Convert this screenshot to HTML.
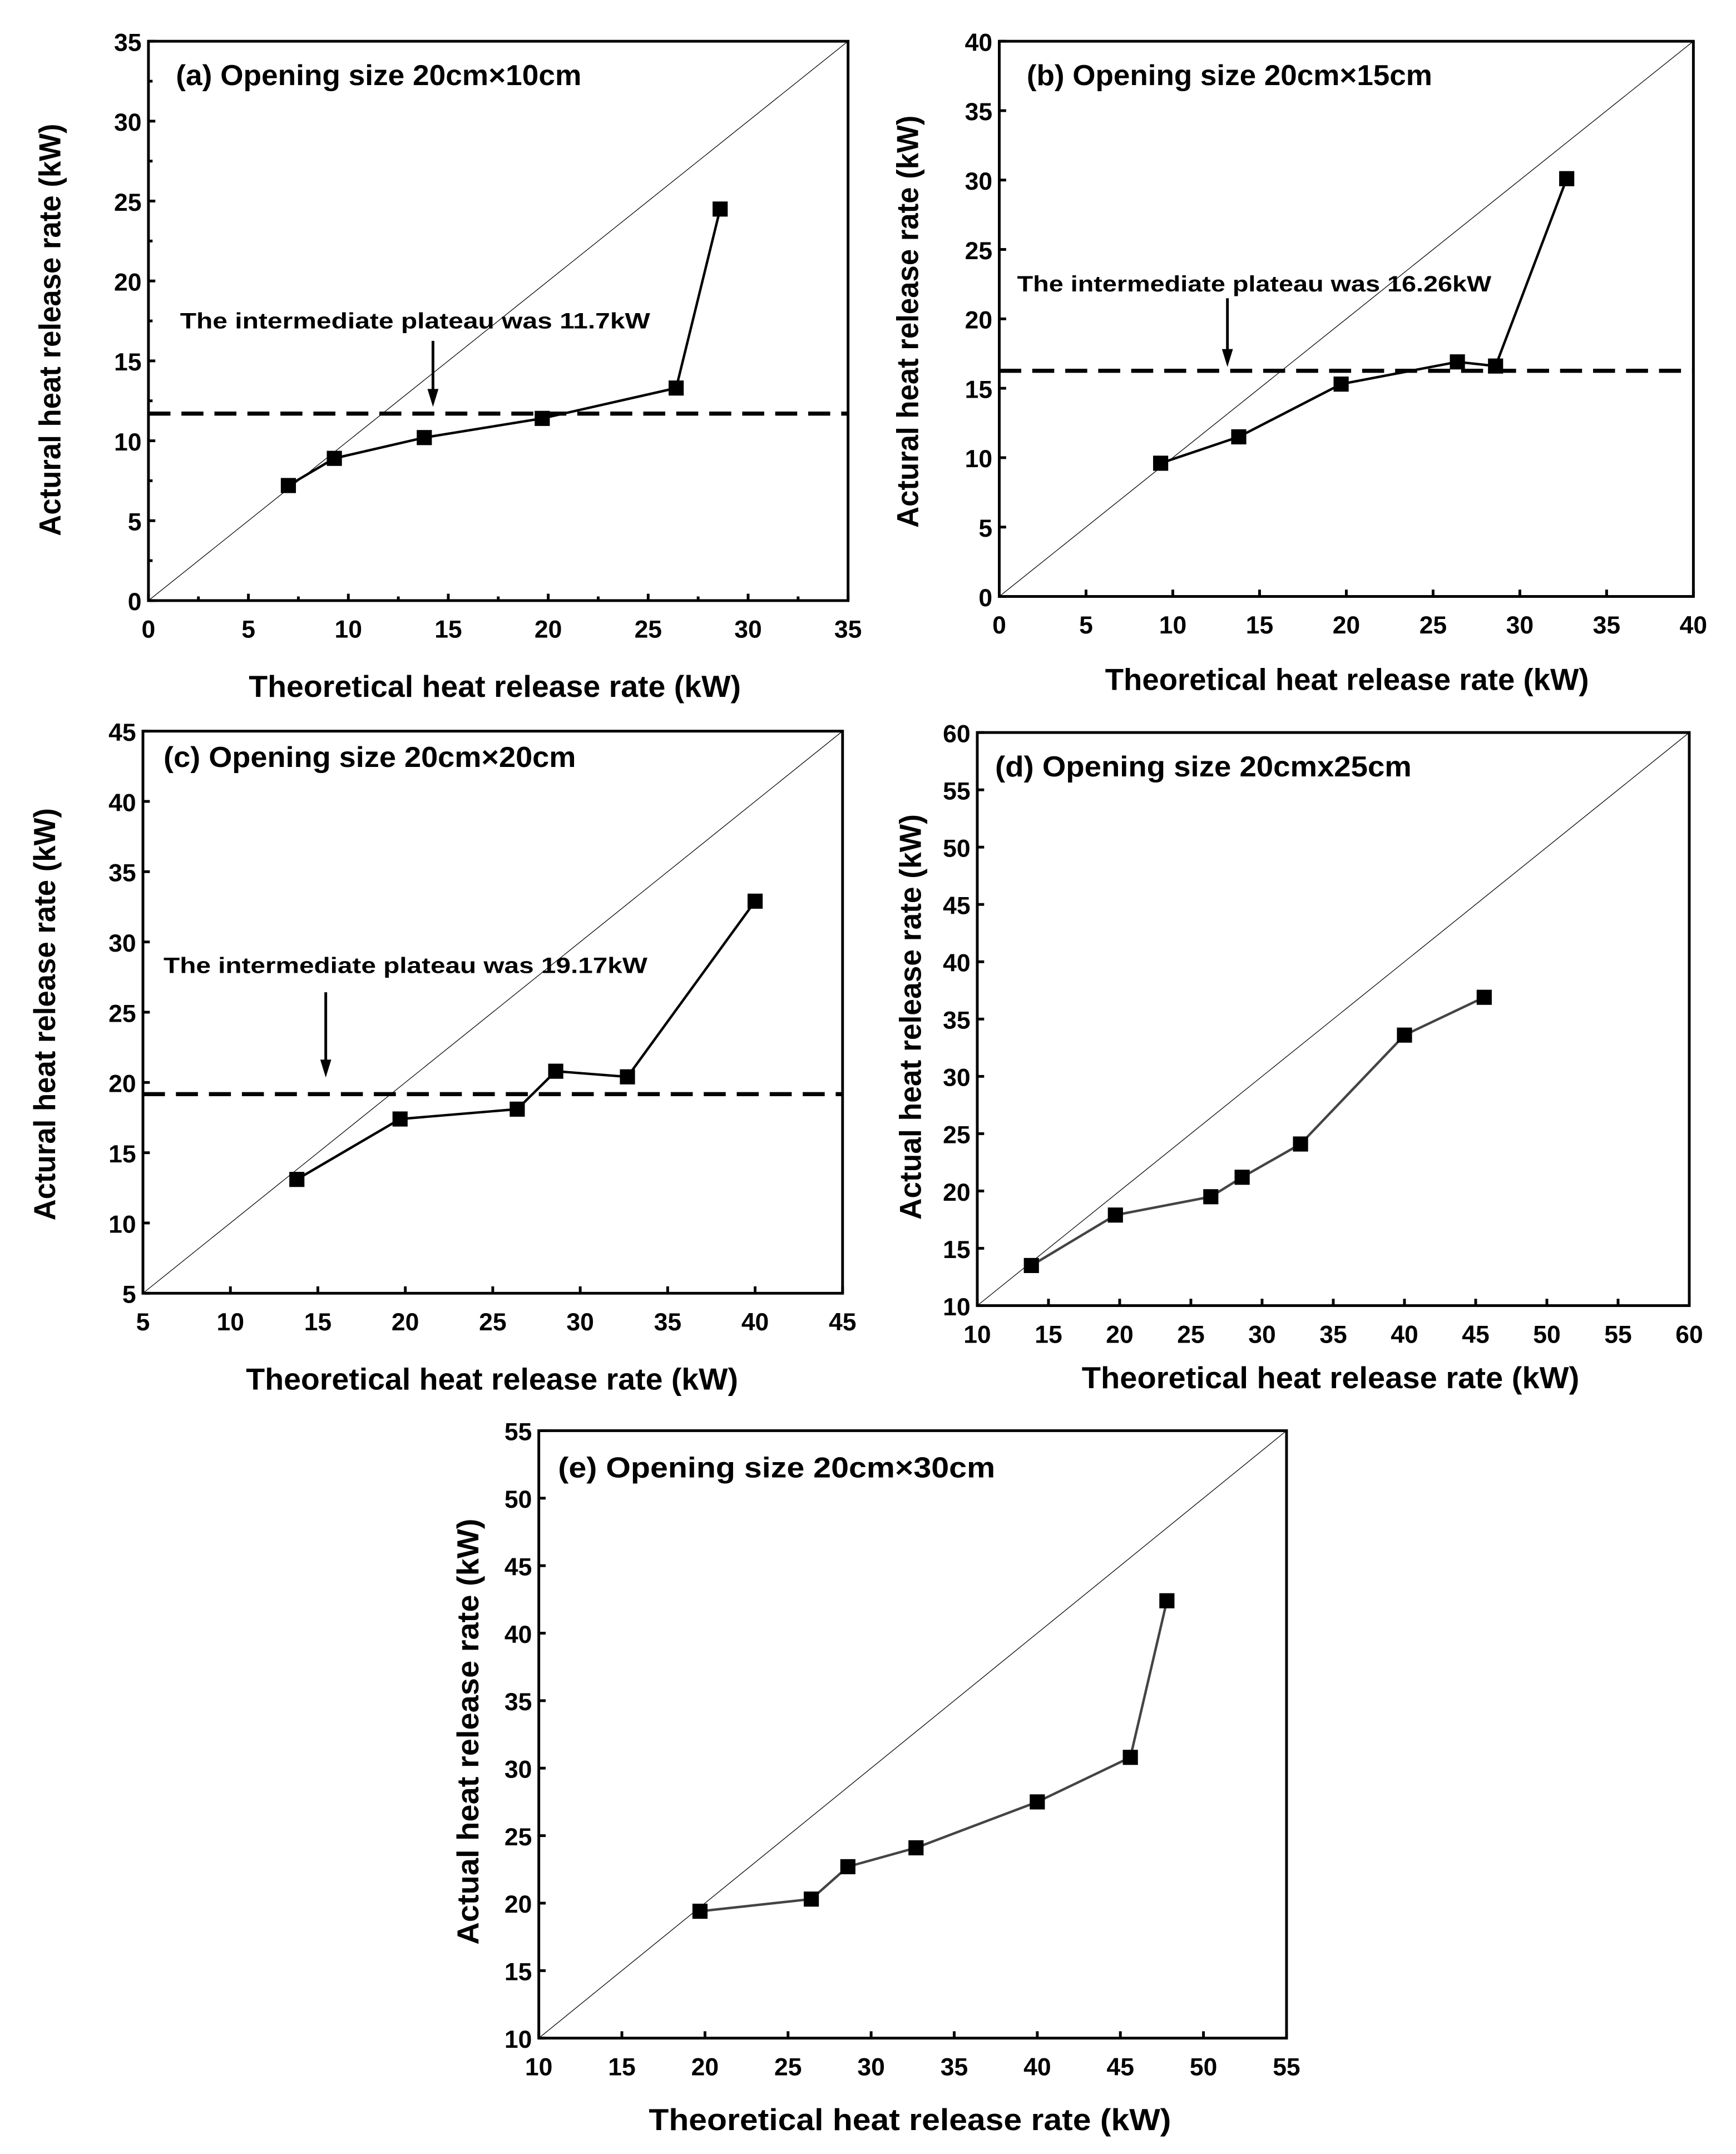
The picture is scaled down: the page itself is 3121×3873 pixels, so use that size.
<!DOCTYPE html>
<html><head><meta charset="utf-8">
<style>
html,body{margin:0;padding:0;background:#fff;}
svg{display:block;}
text{font-family:"Liberation Sans",sans-serif;font-weight:bold;fill:#000;}
</style></head>
<body>
<svg id="fig" width="3121" height="3873" viewBox="0 0 1263 1567.3" xmlns="http://www.w3.org/2000/svg"></svg>
<script>
// Panel data
const aX=[7,9.3,13.8,19.7,26.4,28.6];
const aY=[7.2,8.9,10.2,11.4,13.3,24.5];
const bX=[9.3,13.8,19.7,26.4,28.6,32.7];
const bY=[9.6,11.5,15.3,16.9,16.6,30.1];
const cX=[13.8,19.7,26.4,28.6,32.7,40];
const cY=[13.1,17.4,18.1,20.8,20.4,32.9];
const dX=[13.8,19.7,26.4,28.6,32.7,40,45.6];
const dY=[13.5,17.9,19.5,21.2,24.1,33.6,36.9];
const eX=[19.7,26.4,28.6,32.7,40,45.6,47.8];
const eY=[19.4,20.3,22.7,24.1,27.5,30.8,42.4];
const plateaus=[11.7,16.26,19.17];
const aTicks=[0,5,10,15,20,25,30,35];
const bTicks=[0,5,10,15,20,25,30,35,40];
const cTicks=[5,10,15,20,25,30,35,40,45];
const dTicks=[10,15,20,25,30,35,40,45,50,55,60];
const eTicks=[10,15,20,25,30,35,40,45,50,55];

const NS="http://www.w3.org/2000/svg";
const svg=document.getElementById('fig');
function mk(tag,attrs,parent){const e=document.createElementNS(NS,tag);for(const k in attrs)e.setAttribute(k,attrs[k]);(parent||svg).appendChild(e);return e;}

const panels=[
 {id:'a',L:108,R:617,T:30,B:437,xs:aX,ys:aY,ticks:aTicks,minor:true,title:'(a) Opening size 20cm×10cm',tx:128,ty:62,tw:295,
  ylab:'Actural heat release rate (kW)',ylx:44,yly:240,ylw:300,xlab:'Theoretical heat release rate (kW)',xly:507,xlc:360,xlw:358,
  plateau:plateaus[0],note:'The  intermediate plateau was 11.7kW',nx:131,ny:239,nw:342,ax:315,ay1:248,ay2:296,col:'#000'},
 {id:'b',L:727,R:1232,T:30,B:434,xs:bX,ys:bY,ticks:bTicks,minor:false,title:'(b) Opening size 20cm×15cm',tx:747,ty:62,tw:295,
  ylab:'Actural heat release rate (kW)',ylx:668,yly:234,ylw:300,xlab:'Theoretical heat release rate (kW)',xly:502,xlc:980,xlw:352,
  plateau:plateaus[1],note:'The intermediate plateau was 16.26kW',nx:740,ny:212,nw:345,ax:893,ay1:217,ay2:267,col:'#000'},
 {id:'c',L:104,R:613,T:532,B:941,xs:cX,ys:cY,ticks:cTicks,minor:false,title:'(c) Opening size 20cm×20cm',tx:119,ty:558,tw:300,
  ylab:'Actural heat release rate (kW)',ylx:40,yly:738,ylw:300,xlab:'Theoretical heat release rate (kW)',xly:1011,xlc:358,xlw:358,
  plateau:plateaus[2],note:'The intermediate plateau was 19.17kW',nx:119,ny:708,nw:352,ax:237,ay1:722,ay2:784,col:'#000'},
 {id:'d',L:711,R:1229,T:533,B:950,xs:dX,ys:dY,ticks:dTicks,minor:false,title:'(d) Opening size 20cmx25cm',tx:724,ty:565,tw:303,
  ylab:'Actual heat release rate (kW)',ylx:670,yly:740,ylw:295,xlab:'Theoretical heat release rate (kW)',xly:1010,xlc:968,xlw:362,
  plateau:null,col:'#444'},
 {id:'e',L:392,R:936,T:1041,B:1483,xs:eX,ys:eY,ticks:eTicks,minor:false,title:'(e) Opening size 20cm×30cm',tx:406,ty:1075,tw:318,
  ylab:'Actual heat release rate (kW)',ylx:348,yly:1260,ylw:310,xlab:'Theoretical heat release rate (kW)',xly:1550,xlc:662,xlw:380,
  plateau:null,col:'#444'}
];

panels.forEach(p=>{
  const g=mk('g',{});
  
  
  const t0=p.ticks[0],t1=p.ticks[p.ticks.length-1];
  const sx=v=>p.L+(v-t0)/(t1-t0)*(p.R-p.L);
  const sy=v=>p.B-(v-t0)/(t1-t0)*(p.B-p.T);
  const diag=mk('line',{x1:sx(t0),y1:sy(t0),x2:sx(t1),y2:sy(t1),stroke:'#000','stroke-width':0.5},g);
  
  
  const tg=mk('g',{},g);
  
  
  p.ticks.forEach((v,i)=>{
    mk('line',{x1:sx(v),y1:p.B,x2:sx(v),y2:p.B-5,stroke:'#000','stroke-width':2},tg);
    mk('line',{x1:p.L,y1:sy(v),x2:p.L+5,y2:sy(v),stroke:'#000','stroke-width':2},tg);
    const xl=mk('text',{x:sx(v),y:p.B+27,'text-anchor':'middle','font-size':18},tg);
    xl.textContent=v;
    
    
    const yl=mk('text',{x:p.L-5,y:sy(v)+7,'text-anchor':'end','font-size':18},tg);
    yl.textContent=v;
    
    
    if(p.minor&&i<p.ticks.length-1){
      const m=v+(p.ticks[1]-p.ticks[0])/2;
      mk('line',{x1:sx(m),y1:p.B,x2:sx(m),y2:p.B-3,stroke:'#000','stroke-width':2},tg);
      mk('line',{x1:p.L,y1:sy(m),x2:p.L+3,y2:sy(m),stroke:'#000','stroke-width':2},tg);
    }
  });
  const fr=mk('rect',{x:p.L,y:p.T,width:p.R-p.L,height:p.B-p.T,fill:'none',stroke:'#000','stroke-width':2},g);
  
  
  if(p.plateau!==null){
    const dl=mk('line',{x1:p.L,y1:sy(p.plateau),x2:p.R,y2:sy(p.plateau),stroke:'#000','stroke-width':3,'stroke-dasharray':'16 8'},g);
    
    
    const nt=mk('text',{x:p.nx,y:p.ny,'font-size':16,textLength:p.nw,lengthAdjust:'spacingAndGlyphs'},g);
    nt.textContent=p.note;
    
    
    const ar=mk('line',{x1:p.ax,y1:p.ay1,x2:p.ax,y2:p.ay2-10,stroke:'#000','stroke-width':2},g);
    
    
    const ah=mk('polygon',{points:`${p.ax-4},${p.ay2-13} ${p.ax+4},${p.ay2-13} ${p.ax},${p.ay2}`,fill:'#000'},g);
    
    
  }
  const pts=p.xs.map((x,i)=>sx(x)+','+sy(p.ys[i])).join(' ');
  const pl=mk('polyline',{points:pts,fill:'none',stroke:p.col,'stroke-width':1.8},g);
  
  
  p.xs.forEach((x,i)=>{
    const r=mk('rect',{x:sx(x)-5.5,y:sy(p.ys[i])-5.5,width:11,height:11,fill:'#000'},g);
    
    
  });
  const tt=mk('text',{x:p.tx,y:p.ty,'font-size':21,textLength:p.tw,lengthAdjust:'spacingAndGlyphs'},g);
  tt.textContent=p.title;
  
  
  const xt=mk('text',{x:p.xlc,y:p.xly,'text-anchor':'middle','font-size':22,textLength:p.xlw,lengthAdjust:'spacingAndGlyphs'},g);
  xt.textContent=p.xlab;
  
  
  const yt=mk('text',{x:0,y:0,'text-anchor':'middle','font-size':22,textLength:p.ylw,lengthAdjust:'spacingAndGlyphs',transform:`translate(${p.ylx},${p.yly}) rotate(-90)`},g);
  yt.textContent=p.ylab;
  
  
});
</script>
</body></html>
